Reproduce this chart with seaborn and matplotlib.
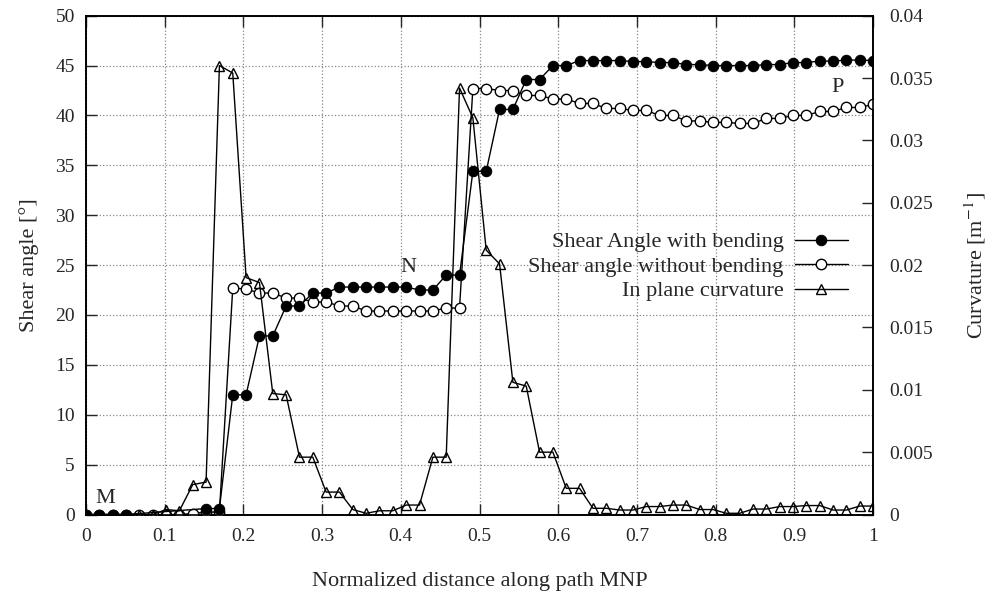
import numpy as np
import pandas as pd
import matplotlib
matplotlib.use('Agg')
import matplotlib.pyplot as plt
import seaborn as sns

# positions along path MNP (60 samples)
distance = [0.0, 0.016949, 0.033898, 0.050847, 0.067797, 0.084746, 0.101695, 0.118644,
            0.135593, 0.152542, 0.169492, 0.186441, 0.20339, 0.220339, 0.237288, 0.254237,
            0.271186, 0.288136, 0.305085, 0.322034, 0.338983, 0.355932, 0.372881, 0.389831,
            0.40678, 0.423729, 0.440678, 0.457627, 0.474576, 0.491525, 0.508475, 0.525424,
            0.542373, 0.559322, 0.576271, 0.59322, 0.610169, 0.627119, 0.644068, 0.661017,
            0.677966, 0.694915, 0.711864, 0.728814, 0.745763, 0.762712, 0.779661, 0.79661,
            0.813559, 0.830508, 0.847458, 0.864407, 0.881356, 0.898305, 0.915254, 0.932203,
            0.949153, 0.966102, 0.983051, 1.0]

# shear angle [deg] with bending (missing values hidden under the other series)
shear_bending = [0, 0, 0, 0, np.nan, np.nan, np.nan, np.nan, np.nan,
                 0.6, 0.6, 12.0, 12.0, 17.9, 17.9, 20.9, 20.9, 22.2, 22.2,
                 22.8, 22.8, 22.8, 22.8, 22.8, 22.8, 22.5, 22.5, 24.0, 24.0,
                 34.4, 34.4, 40.6, 40.6, 43.6, 43.6, 45.0, 45.0,
                 45.5, 45.5, 45.5, 45.5, 45.4, 45.4, 45.3, 45.3, 45.1, 45.1,
                 45.0, 45.0, 45.0, 45.0, 45.1, 45.1, 45.3, 45.3, 45.45, 45.45,
                 45.55, 45.55, 45.5]

# shear angle [deg] without bending
shear_no_bending = [0, 0, 0, 0, 0.0, 0.0, 0.0, 0.0, 0.1,
                    0.25, 0.25, 22.7, 22.6, 22.2, 22.2, 21.7, 21.7, 21.3, 21.3,
                    20.9, 20.9, 20.4, 20.4, 20.4, 20.4, 20.4, 20.4, 20.7, 20.7,
                    42.7, 42.7, 42.5, 42.5, 42.0, 42.0, 41.65, 41.65, 41.2, 41.2,
                    40.7, 40.7, 40.5, 40.5, 40.0, 40.0, 39.45, 39.45, 39.3, 39.3,
                    39.2, 39.2, 39.7, 39.7, 40.0, 40.0, 40.4, 40.4, 40.8, 40.8, 41.1]

# in-plane curvature [1/m]
curvature = [0, 0, 0, 0, 0, 0, 0.0004, 0.0003, 0.0024, 0.0026,
             0.036, 0.0354, 0.0190, 0.0186, 0.0097, 0.0096, 0.0046, 0.0046, 0.0018, 0.0018,
             0.0004, 0.0001, 0.0003, 0.0003, 0.00076, 0.00076, 0.0046, 0.0046, 0.0342, 0.0318,
             0.0212, 0.0201, 0.0106, 0.0103, 0.0050, 0.0050, 0.0021, 0.0021, 0.0005, 0.0005,
             0.00036, 0.00036, 0.00064, 0.00064, 0.00076, 0.00076, 0.0004, 0.0004, 0.0001, 0.0001,
             0.00044, 0.00044, 0.00064, 0.00064, 0.00072, 0.00072, 0.00036, 0.00036, 0.00068, 0.00068]

x_ticks = [0, 0.1, 0.2, 0.3, 0.4, 0.5, 0.6, 0.7, 0.8, 0.9, 1]
x_labels = ['0', '0.1', '0.2', '0.3', '0.4', '0.5', '0.6', '0.7', '0.8', '0.9', '1']
y_ticks = [0, 5, 10, 15, 20, 25, 30, 35, 40, 45, 50]
y2_ticks = [0, 0.005, 0.01, 0.015, 0.02, 0.025, 0.03, 0.035, 0.04]
y2_labels = ['0', '0.005', '0.01', '0.015', '0.02', '0.025', '0.03', '0.035', '0.04']

df = pd.DataFrame({'dist': distance, 'bend': shear_bending,
                   'nobend': shear_no_bending, 'curv': curvature})

sns.set_style('ticks')
plt.rcParams['font.family'] = ['Liberation Serif', 'DejaVu Serif']
plt.rcParams['mathtext.fontset'] = 'stix'
fs_tick = 14
fs_lab = 16

fig = plt.figure(figsize=(9.91, 5.96), dpi=100)
ax = fig.add_axes([0.0868, 0.1367, 0.7942, 0.837])
ax2 = ax.twinx()

sns.lineplot(data=df, x='dist', y='nobend', ax=ax, color='black', lw=1,
             marker='o', markersize=7.5, markerfacecolor='white', markeredgecolor='black',
             markeredgewidth=1, label='Shear angle without bending', zorder=3, legend=False)
sns.lineplot(data=df, x='dist', y='bend', ax=ax, color='black', lw=1,
             marker='o', markersize=7.5, markerfacecolor='black', markeredgecolor='black',
             label='Shear Angle with bending', zorder=4, legend=False)
sns.lineplot(data=df, x='dist', y='curv', ax=ax2, color='black', lw=1,
             marker='^', markersize=7, markerfacecolor='none', markeredgecolor='black',
             markeredgewidth=1, label='In plane curvature', legend=False)

ax.set_xlim(0, 1)
ax.set_ylim(0, 50)
ax2.set_ylim(0, 0.04)
ax.set_xticks(x_ticks)
ax.set_xticklabels(x_labels)
ax.set_yticks(y_ticks)
ax2.set_yticks(y2_ticks)
ax2.set_yticklabels(y2_labels)

ax.tick_params(direction='in', length=8, width=1, top=True, labelsize=fs_tick)
ax.tick_params(axis='x', pad=10)
ax.tick_params(axis='y', right=False, pad=8)
ax2.tick_params(direction='in', length=8, width=1, labelsize=fs_tick, pad=12)
ax.grid(True, ls=':', color='#888888', lw=0.9)
for a in (ax, ax2):
    for s in a.spines.values():
        s.set_linewidth(1.2)
        s.set_color('black')

ax.set_xlabel('Normalized distance along path MNP', fontsize=fs_lab, labelpad=19)
ax.set_ylabel('Shear angle [°]', fontsize=fs_lab, labelpad=12)
ax2.set_ylabel('Curvature [m$^{-1}$]', fontsize=fs_lab, labelpad=21)

ax.text(0.012, 1.6, 'M', fontsize=16, va='center', ha='left')
ax.text(0.41, 24.8, 'N', fontsize=16, va='center', ha='center')
ax.text(0.955, 42.8, 'P', fontsize=16, va='center', ha='center')

h1, l1 = ax.get_legend_handles_labels()
h2, l2 = ax2.get_legend_handles_labels()
handles = [h1[1], h1[0], h2[0]]
labels = [l1[1], l1[0], l2[0]]
# markerfirst=False right-aligns the rows, so labels end up flush right
ax2.legend(handles, labels, loc='center right', bbox_to_anchor=(0.968, 0.497),
           frameon=False, markerfirst=False, fontsize=fs_lab, handlelength=2.4,
           labelspacing=0.18, handletextpad=0.5, borderaxespad=0, borderpad=0)

fig.savefig('out.png', dpi=100)
plt.close(fig)
